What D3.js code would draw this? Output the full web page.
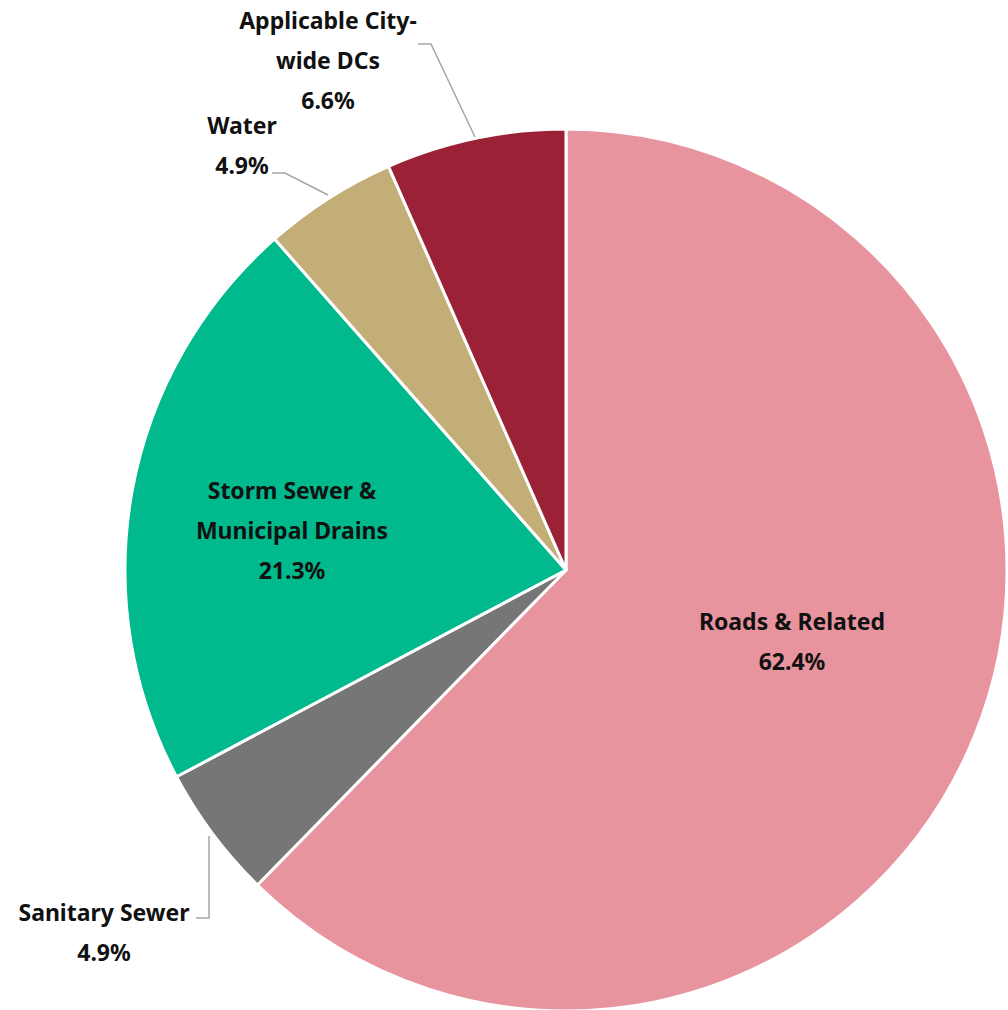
<!DOCTYPE html>
<html>
<head>
<meta charset="utf-8">
<script src="https://cdn.jsdelivr.net/npm/d3@7"></script>
<style>
  html, body { margin: 0; padding: 0; background: #fff; }
  svg text { font-family: "Noto Sans", "Noto Sans CJK JP", sans-serif; font-weight: 700; font-size: 23px; fill: #111; }
</style>
</head>
<body>
<svg id="chart"></svg>
<script>
const width = 1008;
const height = 1010;

// data, clockwise from 12 o'clock
const categories = ['Roads & Related', 'Sanitary Sewer', 'Storm Sewer & Municipal Drains', 'Water', 'Applicable City-wide DCs'];
const shares = [62.4, 4.9, 21.3, 4.9, 6.6];
const labelLines = [
  ['Roads & Related'],
  ['Sanitary Sewer'],
  ['Storm Sewer &', 'Municipal Drains'],
  ['Water'],
  ['Applicable City-', 'wide DCs']
];
const colors = ['#E8949F', '#767676', '#00B98C', '#C4AE78', '#9B2236'];

// label placement (x centre, y of first line) and leader lines
const labelPos = [
  { x: 792, y: 621 },
  { x: 104, y: 912 },
  { x: 292, y: 490 },
  { x: 242, y: 125 },
  { x: 328, y: 20 }
];
const leaders = [
  null,
  [[196, 918], [209, 918], [209, 836]],
  null,
  [[272, 173], [285, 173], [328, 195]],
  [[418, 44], [431, 44], [475, 137]]
];
const lineGap = 40;

const cx = 566, cy = 570, radius = 441;

const svg = d3.select('#chart')
  .attr('width', width).attr('height', height);

const pie = d3.pie().sort(null).value(d => d);
const arc = d3.arc().innerRadius(0).outerRadius(radius);
const arcs = pie(shares);

const g = svg.append('g').attr('transform', `translate(${cx},${cy})`);

g.selectAll('path.slice')
  .data(arcs)
  .enter()
  .append('path')
  .attr('class', 'slice')
  .attr('d', arc)
  .style('fill', (d, i) => colors[i])
  .style('stroke', '#fff')
  .style('stroke-width', 3)
  .style('stroke-linejoin', 'round');

const line = d3.line();
svg.selectAll('path.leader')
  .data(leaders.filter(d => d))
  .enter()
  .append('path')
  .attr('class', 'leader')
  .attr('d', line)
  .style('fill', 'none')
  .style('stroke', '#A6A6A6')
  .style('stroke-width', 1.5);

categories.forEach((c, i) => {
  const lines = labelLines[i].concat([shares[i].toFixed(1) + '%']);
  const t = svg.append('text')
    .attr('text-anchor', 'middle');
  lines.forEach((s, j) => {
    t.append('tspan')
      .attr('x', labelPos[i].x)
      .attr('y', labelPos[i].y + j * lineGap)
      .attr('dominant-baseline', 'central')
      .text(s);
  });
});
</script>
</body>
</html>
